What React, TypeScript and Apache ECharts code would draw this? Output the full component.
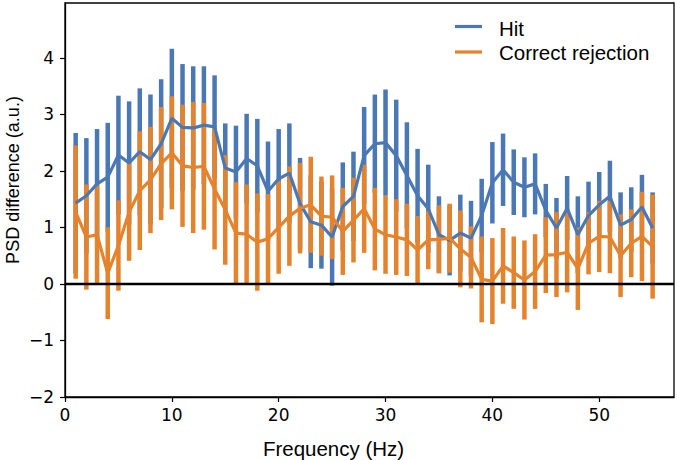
import React, { useEffect, useRef } from "react";
import * as echarts from "echarts";

const freqs = [
  1, 2, 3, 4, 5, 6, 7, 8, 9, 10, 11, 12, 13, 14, 15, 16, 17, 18, 19, 20,
  21, 22, 23, 24, 25, 26, 27, 28, 29, 30, 31, 32, 33, 34, 35, 36, 37, 38, 39, 40,
  41, 42, 43, 44, 45, 46, 47, 48, 49, 50, 51, 52, 53, 54, 55,
];

const hitMean = [
  1.43, 1.56, 1.77, 1.89, 2.28, 2.14, 2.34, 2.2, 2.48, 2.93, 2.77, 2.76, 2.81, 2.78, 2.05, 1.98, 2.22, 2.09, 1.64, 1.86,
  1.96, 1.42, 1.1, 1.04, 0.83, 1.37, 1.55, 2.27, 2.48, 2.5, 2.27, 1.92, 1.56, 1.33, 0.87, 0.77, 0.9, 0.81, 1.21, 1.79,
  2.02, 1.8, 1.71, 1.77, 1.3, 0.99, 1.34, 0.87, 1.21, 1.4, 1.55, 1.04, 1.14, 1.36, 0.99,
];
const hitErr = [
  1.24, 1.02, 0.97, 0.96, 1.05, 1.09, 1.12, 1.15, 1.14, 1.23, 1.12, 1.09, 1.04, 0.91, 0.79, 0.82, 0.79, 0.83, 0.88, 0.88,
  0.88, 0.81, 0.82, 0.77, 0.86, 0.78, 0.79, 0.86, 0.87, 0.94, 0.99, 0.94, 0.83, 0.78, 0.68, 0.62, 0.68, 0.66, 0.65, 0.72,
  0.64, 0.58, 0.53, 0.54, 0.47, 0.53, 0.57, 0.68, 0.6, 0.58, 0.63, 0.58, 0.57, 0.57, 0.63,
];

const crMean = [
  1.27, 0.83, 0.87, 0.19, 0.68, 1.27, 1.65, 1.84, 2.13, 2.32, 2.09, 2.06, 2.08, 1.68, 1.31, 0.9, 0.88, 0.74, 0.8, 1.0,
  1.2, 1.34, 1.4, 1.2, 1.18, 0.93, 1.13, 1.33, 0.97, 0.87, 0.83, 0.78, 0.6, 0.78, 0.79, 0.81, 0.62, 0.47, 0.08, 0.05,
  0.32, 0.2, 0.07, 0.22, 0.51, 0.52, 0.56, 0.27, 0.72, 0.84, 0.83, 0.5, 0.72, 0.84, 0.66,
];
const crErr = [
  1.18, 0.93, 0.87, 0.81, 0.8, 0.86, 1.05, 0.94, 1.0, 1.0, 1.08, 1.16, 1.12, 1.07, 0.97, 0.9, 0.88, 0.86, 0.79, 0.82,
  0.88, 0.8, 0.85, 0.7, 0.74, 0.77, 0.75, 0.78, 0.73, 0.69, 0.67, 0.64, 0.6, 0.52, 0.6, 0.61, 0.68, 0.55, 0.76, 0.76,
  0.67, 0.64, 0.7, 0.66, 0.67, 0.75, 0.71, 0.73, 0.55, 0.63, 0.64, 0.73, 0.6, 0.79, 0.92,
];

const xTicks = [0, 10, 20, 30, 40, 50];
const yTicks = [-2, -1, 0, 1, 2, 3, 4];
const seriesNames = ["Hit", "Correct rejection"];
const xTitle = "Frequency (Hz)";
const yTitle = "PSD difference (a.u.)";

const BLUE = "#4a78b5";
const ORANGE = "#e4832c";

function errorSeries(name: string, mean: number[], err: number[], color: string) {
  return {
    type: "custom",
    name,
    data: freqs.map((f, i) => [f, mean[i] - err[i], mean[i] + err[i]]),
    encode: { x: 0, y: [1, 2] },
    renderItem: (_params: any, api: any) => {
      const p1 = api.coord([api.value(0), api.value(1)]);
      const p2 = api.coord([api.value(0), api.value(2)]);
      return {
        type: "line",
        shape: { x1: p1[0], y1: p1[1], x2: p2[0], y2: p2[1] },
        style: { stroke: color, lineWidth: 4.5 },
      };
    },
    silent: true,
  };
}

function meanSeries(name: string, mean: number[], color: string, extra: any = {}) {
  return {
    type: "line",
    name,
    data: freqs.map((f, i) => [f, mean[i]]),
    showSymbol: false,
    symbol: "none",
    lineStyle: { color, width: 3.2 },
    itemStyle: { color },
    silent: true,
    ...extra,
  };
}

export default function App() {
  const ref = useRef<HTMLDivElement>(null);
  useEffect(() => {
    if (!ref.current) return;
    const chart = echarts.init(ref.current, undefined, { renderer: "svg" });
    const tickFont = { fontFamily: "DejaVu Sans", fontSize: 17, color: "#000" };
    chart.setOption({
      animation: false,
      backgroundColor: "#fff",
      grid: {
        left: 65,
        right: 3,
        top: 3,
        bottom: 63,
        show: true,
        borderColor: "#000",
        borderWidth: 1.3,
        backgroundColor: "transparent",
      },
      xAxis: {
        type: "value",
        min: 0,
        max: 57,
        interval: 10,
        axisLine: { show: true, onZero: false, lineStyle: { color: "#000", width: 1.3 } },
        axisTick: { show: true, length: 5, customValues: xTicks, lineStyle: { color: "#000", width: 1.2 } },
        axisLabel: { ...tickFont, margin: 9, customValues: xTicks },
        splitLine: { show: false },
      },
      yAxis: {
        type: "value",
        min: -2,
        max: 4.97,
        interval: 1,
        axisLine: { show: true, onZero: false, lineStyle: { color: "#000", width: 1.3 } },
        axisTick: { show: true, length: 5, customValues: yTicks, lineStyle: { color: "#000", width: 1.2 } },
        axisLabel: {
          ...tickFont,
          margin: 11,
          customValues: yTicks,
          formatter: (v: number) => (v < 0 ? "\u2212" + Math.abs(v) : String(v)),
        },
        splitLine: { show: false },
      },
      series: [
        errorSeries(seriesNames[0] + " error", hitMean, hitErr, BLUE),
        errorSeries(seriesNames[1] + " error", crMean, crErr, ORANGE),
        meanSeries(seriesNames[0], hitMean, BLUE),
        meanSeries(seriesNames[1], crMean, ORANGE, {
          markLine: {
            silent: true,
            symbol: ["none", "none"],
            label: { show: false },
            lineStyle: { color: "#000", width: 2.4, type: "solid" },
            data: [{ yAxis: 0 }],
          },
        }),
      ],
      graphic: [
        {
          type: "line",
          shape: { x1: 455, y1: 26.5, x2: 482, y2: 26.5 },
          style: { stroke: BLUE, lineWidth: 3.2 },
        },
        {
          type: "line",
          shape: { x1: 455, y1: 52, x2: 482, y2: 52 },
          style: { stroke: ORANGE, lineWidth: 3.2 },
        },
        {
          type: "text",
          x: 499,
          y: 28,
          style: {
            text: seriesNames[0],
            fontFamily: "Liberation Sans",
            fontSize: 20.5,
            fill: "#000",
            textAlign: "left",
            textVerticalAlign: "middle",
          },
        },
        {
          type: "text",
          x: 499,
          y: 52.5,
          style: {
            text: seriesNames[1],
            fontFamily: "Liberation Sans",
            fontSize: 20.5,
            fill: "#000",
            textAlign: "left",
            textVerticalAlign: "middle",
          },
        },
        {
          type: "text",
          x: 333.5,
          y: 448,
          style: {
            text: xTitle,
            fontFamily: "Liberation Sans",
            fontSize: 20.5,
            fill: "#000",
            textAlign: "center",
            textVerticalAlign: "middle",
          },
        },
        {
          type: "text",
          x: 13,
          y: 180,
          rotation: Math.PI / 2,
          style: {
            text: yTitle,
            fontFamily: "Liberation Sans",
            fontSize: 18,
            fill: "#000",
            textAlign: "center",
            textVerticalAlign: "middle",
          },
        },
      ],
    });
    return () => chart.dispose();
  }, []);
  return <div ref={ref} style={{ width: 677, height: 460, position: "absolute", left: 0, top: 0 }} />;
}
